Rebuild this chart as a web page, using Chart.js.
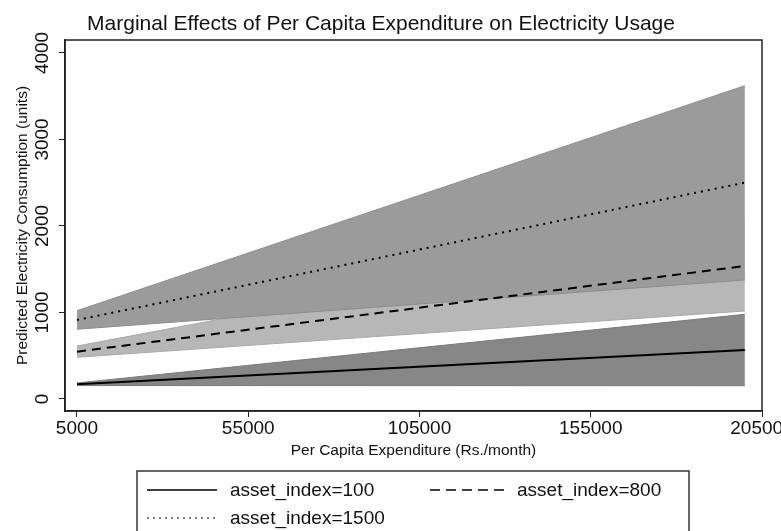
<!DOCTYPE html>
<html lang="en">
<head>
<meta charset="UTF-8">
<title>Marginal Effects of Per Capita Expenditure on Electricity Usage</title>
<script src="https://cdn.jsdelivr.net/npm/chart.js@4.4.1/dist/chart.umd.min.js"></script>
<style>
    html, body {
        margin: 0;
        padding: 0;
        background: #ffffff;
    }
</style>
</head>
<body>
<canvas id="effectsChart" width="781" height="531"></canvas>
<script>
    // predictions at the two ends of the expenditure range
    const expenditure = [5000, 200000];
    const seriesNames = ['asset_index=100', 'asset_index=800', 'asset_index=1500'];
    const fit100 = [170, 566];
    const lower100 = [155, 153];
    const upper100 = [185, 979];
    const fit800 = [547, 1538];
    const lower800 = [482, 1017];
    const upper800 = [612, 2059];
    const fit1500 = [913, 2501];
    const lower1500 = [806, 1376];
    const upper1500 = [1021, 3622];
    const xTicks = [5000, 55000, 105000, 155000, 205000];
    const yTicks = [0, 1000, 2000, 3000, 4000];

    const FONT = "'Liberation Sans', Arial, sans-serif";
    const dashes = [[], [9, 6], [2, 5]];
    const keyDashes = [[], [10, 6], [2, 4]];

    const pts = vals => vals.map((v, i) => ({ x: expenditure[i], y: v }));

    function band(lo, hi, color, edge, order) {
        return [
            { data: pts(lo), borderColor: edge, borderWidth: 1, pointRadius: 0, fill: false, order: order },
            { data: pts(hi), borderColor: edge, borderWidth: 1, pointRadius: 0, backgroundColor: color, fill: '-1', order: order }
        ];
    }

    function fitLine(vals, idx) {
        return {
            label: seriesNames[idx],
            data: pts(vals),
            borderColor: '#000000',
            borderWidth: 2,
            borderDash: dashes[idx],
            pointRadius: 0,
            fill: false,
            order: 0
        };
    }

    // plot frame plus the boxed key under the axis
    const frameAndKey = {
        id: 'frameAndKey',
        afterDraw(chart) {
            const { ctx, chartArea: a } = chart;
            ctx.save();
            ctx.strokeStyle = '#222222';
            ctx.lineWidth = 1.5;
            ctx.strokeRect(a.left, a.top, a.right - a.left, a.bottom - a.top);

            ctx.strokeStyle = '#333333';
            ctx.strokeRect(137, 471, 552, 80);

            const slots = [
                { x: 147, y: 490, w: 70 },
                { x: 430, y: 490, w: 74 },
                { x: 147, y: 518, w: 70 }
            ];
            ctx.font = '19px ' + FONT;
            ctx.fillStyle = '#111111';
            ctx.textBaseline = 'middle';
            seriesNames.forEach((name, i) => {
                const s = slots[i];
                ctx.beginPath();
                ctx.setLineDash(keyDashes[i]);
                ctx.lineWidth = i === 2 ? 1.2 : 1.6;
                ctx.strokeStyle = '#000000';
                ctx.moveTo(s.x, s.y);
                ctx.lineTo(s.x + s.w, s.y);
                ctx.stroke();
                ctx.fillText(name, s.x + s.w + 13, s.y + 1);
            });
            ctx.restore();
        }
    };

    const ctx = document.getElementById('effectsChart').getContext('2d');
    new Chart(ctx, {
        type: 'line',
        data: {
            datasets: [
                fitLine(fit100, 0),
                fitLine(fit800, 1),
                fitLine(fit1500, 2),
                ...band(lower1500, upper1500, '#9b9b9b', '#8d8d8d', 1),
                ...band(lower800, upper800, '#b7b7b7', '#a9a9a9', 2),
                ...band(lower100, upper100, '#878787', '#7a7a7a', 3)
            ]
        },
        options: {
            responsive: false,
            animation: false,
            layout: { padding: { left: 0, right: 19, top: 0, bottom: 60 } },
            elements: { line: { tension: 0 } },
            plugins: {
                legend: { display: false },
                tooltip: { enabled: false },
                title: {
                    display: true,
                    text: 'Marginal Effects of Per Capita Expenditure on Electricity Usage',
                    color: '#111111',
                    font: { family: FONT, size: 21, weight: 'normal' },
                    padding: { top: 12, bottom: 2.8 }
                }
            },
            scales: {
                x: {
                    type: 'linear',
                    min: 1500,
                    max: 205000,
                    afterBuildTicks: scale => { scale.ticks = xTicks.map(v => ({ value: v })); },
                    afterFit: scale => {
                        scale.height = 60;
                        scale.paddingLeft = 0;
                        scale.paddingRight = 0;
                    },
                    grid: { drawOnChartArea: false, drawTicks: true, tickLength: 6, color: '#222222' },
                    border: { display: true, color: '#222222', width: 1.5 },
                    ticks: {
                        color: '#111111',
                        font: { family: FONT, size: 19 },
                        padding: 0,
                        maxRotation: 0,
                        callback: v => String(v)
                    },
                    title: {
                        display: true,
                        text: 'Per Capita Expenditure (Rs./month)',
                        color: '#111111',
                        font: { family: FONT, size: 15.5 },
                        padding: { top: 0, bottom: 11 }
                    }
                },
                y: {
                    min: -139,
                    max: 4150,
                    afterBuildTicks: scale => { scale.ticks = yTicks.map(v => ({ value: v })); },
                    afterFit: scale => {
                        scale.width = 65;
                        scale.paddingTop = 0;
                        scale.paddingBottom = 0;
                    },
                    grid: { drawOnChartArea: false, drawTicks: true, tickLength: 6, color: '#222222' },
                    border: { display: true, color: '#222222', width: 1.5 },
                    ticks: {
                        color: '#111111',
                        font: { family: FONT, size: 19 },
                        minRotation: 90,
                        maxRotation: 90,
                        crossAlign: 'center',
                        padding: -5,
                        callback: v => String(v)
                    },
                    title: {
                        display: true,
                        text: 'Predicted Electricity Consumption (units)',
                        color: '#111111',
                        font: { family: FONT, size: 15.5 },
                        padding: { top: 13, bottom: 0 }
                    }
                }
            }
        },
        plugins: [frameAndKey]
    });
</script>
</body>
</html>
